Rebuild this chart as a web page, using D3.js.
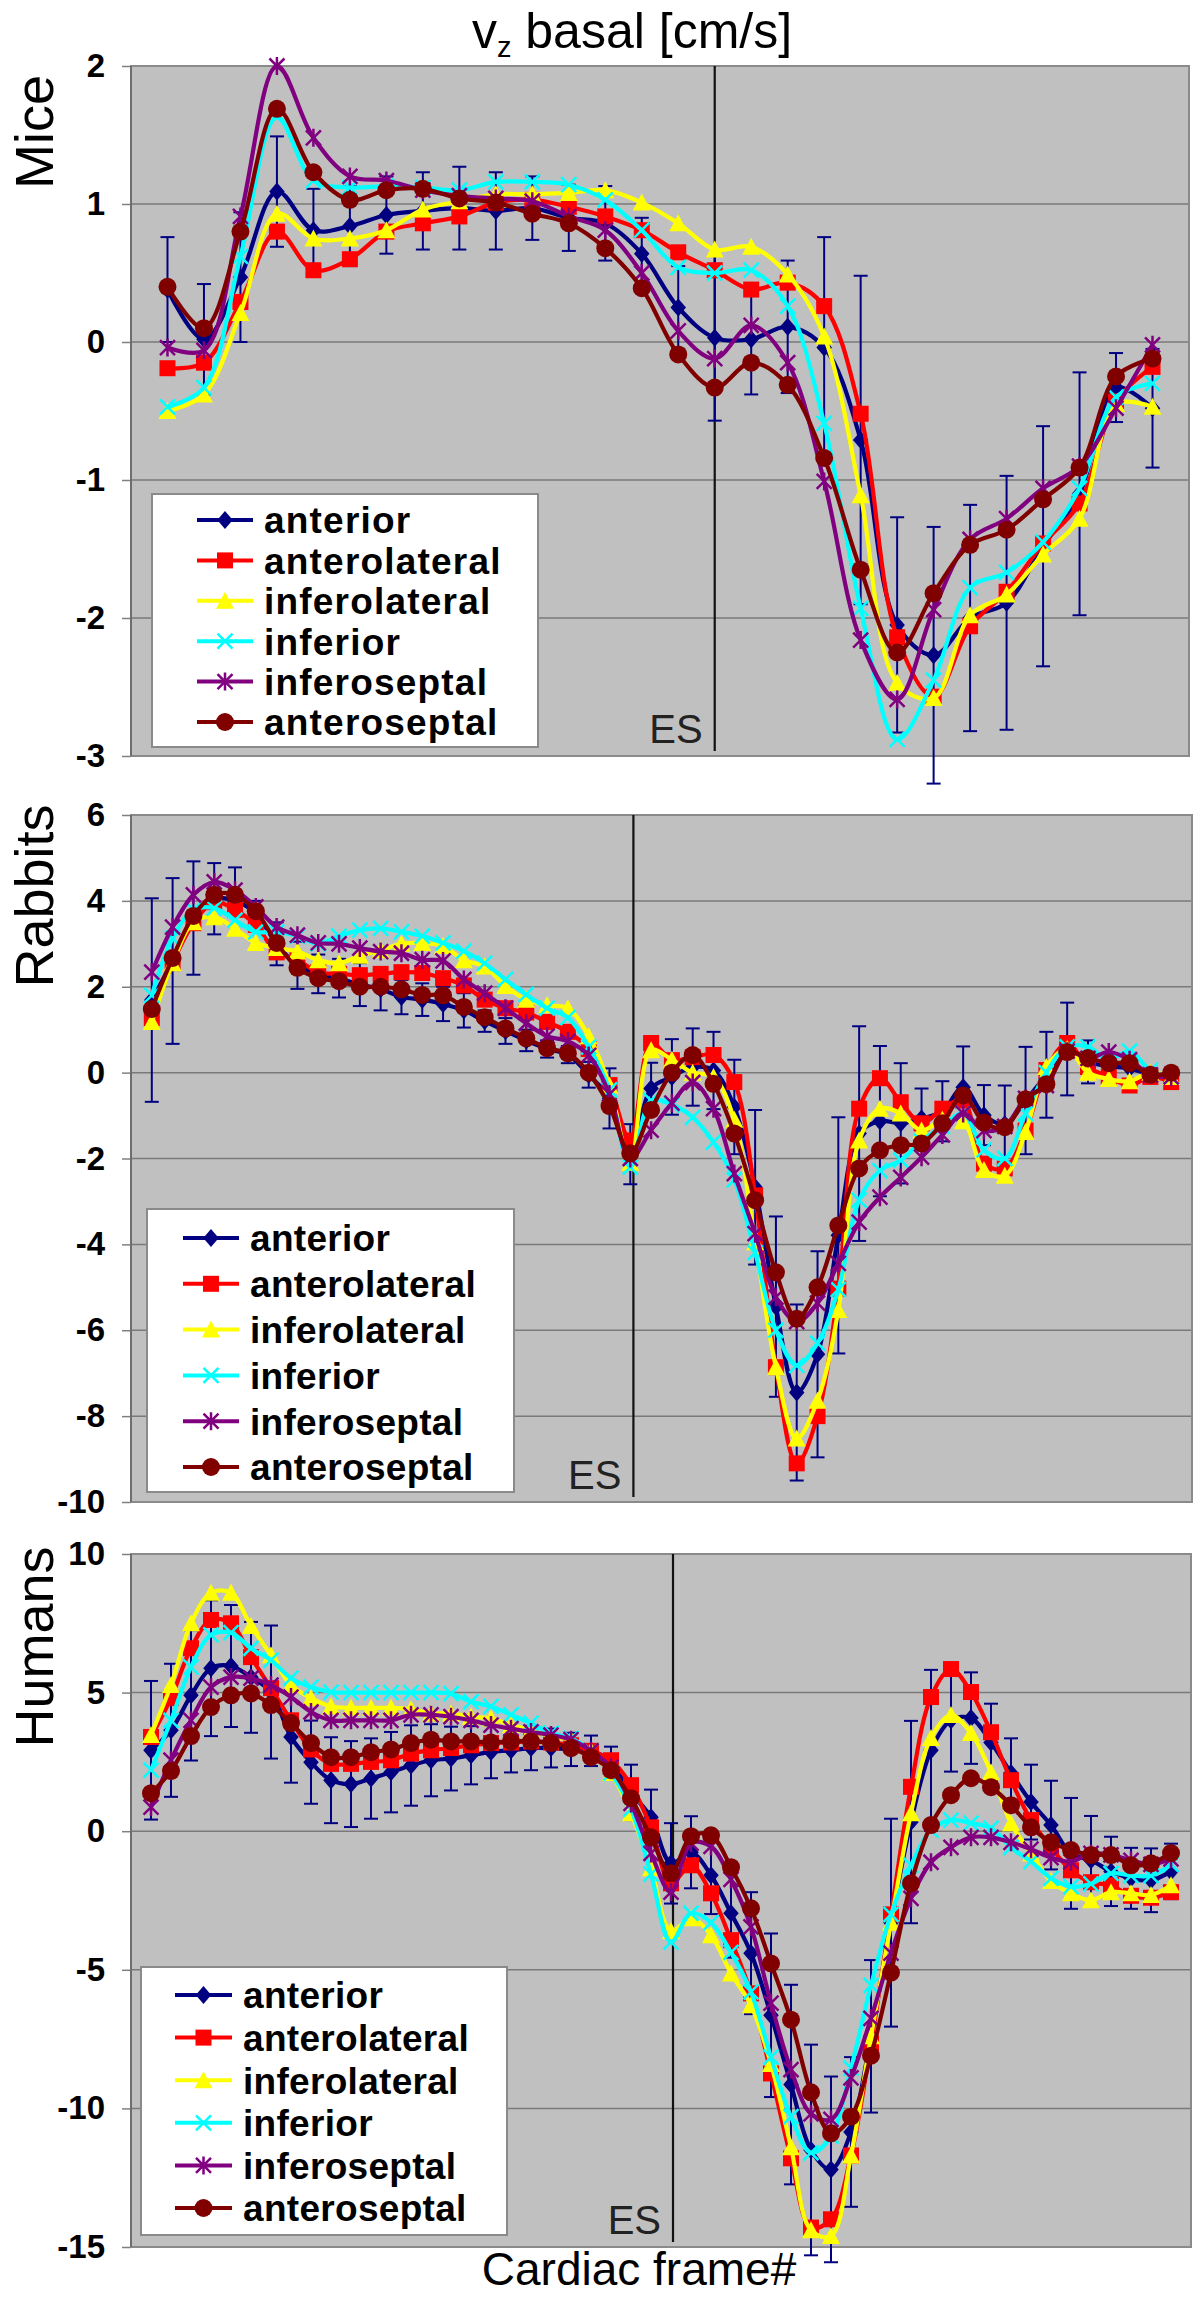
<!DOCTYPE html>
<html><head><meta charset="utf-8">
<script src="https://cdn.jsdelivr.net/npm/d3@7"></script>
<style>body{margin:0;background:#fff}svg{display:block}</style>
</head><body>
<svg id="c" width="1200" height="2298"></svg>
<script>
// ---------- data ----------
const seriesNames = ["anterior","anterolateral","inferolateral","inferior","inferoseptal","anteroseptal"];
const seriesColors = ["#000080","#ff0000","#ffff00","#00ffff","#800080","#800000"];
const seriesShapes = ["diamond","square","triangle","x","star","circle"];

const panelLabels = ["Mice","Rabbits","Humans"];
const miceTicks = [-3,-2,-1,0,1,2];
const rabbitTicks = [-10,-8,-6,-4,-2,0,2,4,6];
const humanTicks = [-15,-10,-5,0,5,10];
const esFrames = [15, 23.15, 26.1];

const miceAnterior      = [0.38,0.02,0.47,1.09,0.81,0.84,0.92,0.95,0.97,0.95,0.97,0.90,0.86,0.64,0.25,0.03,0.02,0.11,-0.04,-0.71,-2.05,-2.27,-2.00,-1.89,-1.48,-1.10,-0.33,-0.48];
const miceAnteriorErr   = [0.38,0.40,0.47,0.40,0.30,0.29,0.28,0.28,0.30,0.28,0.23,0.24,0.27,0.26,0.30,0.60,0.40,0.48,0.80,1.19,0.78,0.93,0.82,0.92,0.87,0.88,0.25,0.43];
const miceAnterolateral = [-0.19,-0.15,0.29,0.80,0.52,0.60,0.80,0.86,0.91,1.01,1.03,0.98,0.91,0.81,0.65,0.52,0.38,0.43,0.26,-0.52,-2.14,-2.57,-2.06,-1.81,-1.46,-1.17,-0.43,-0.18];
const miceInferolateral = [-0.50,-0.38,0.21,0.93,0.75,0.75,0.81,0.96,1.02,1.07,1.07,1.08,1.10,1.01,0.86,0.67,0.69,0.49,0.04,-1.11,-2.47,-2.58,-1.98,-1.83,-1.54,-1.28,-0.45,-0.47];
const miceInferior      = [-0.47,-0.33,0.62,1.63,1.17,1.12,1.13,1.12,1.10,1.16,1.16,1.14,1.03,0.81,0.54,0.50,0.52,0.26,-0.59,-1.93,-2.88,-2.45,-1.78,-1.67,-1.45,-1.06,-0.40,-0.30];
const miceInferoseptal  = [-0.04,-0.06,0.91,2.00,1.48,1.20,1.17,1.10,1.06,1.04,1.02,0.91,0.81,0.50,0.08,-0.12,0.12,-0.15,-1.01,-2.16,-2.59,-1.94,-1.43,-1.28,-1.06,-0.90,-0.48,-0.02];
const miceAnteroseptal  = [0.40,0.10,0.80,1.69,1.23,1.03,1.10,1.11,1.04,1.01,0.93,0.86,0.68,0.39,-0.09,-0.33,-0.15,-0.31,-0.84,-1.65,-2.25,-1.82,-1.47,-1.36,-1.14,-0.91,-0.25,-0.12];

const rabbitAnterior      = [1.69,2.6,3.6,4.05,4.0,3.7,3.0,2.5,2.3,2.2,2.05,1.95,1.76,1.7,1.6,1.45,1.2,0.97,0.75,0.55,0.42,-0.05,-0.6,-1.9,-0.37,-0.1,0.13,0.05,-0.8,-2.67,-5.45,-7.45,-6.56,-3.79,-1.42,-1.13,-1.18,-1.07,-0.9,-0.34,-0.99,-1.2,-0.65,-0.05,0.55,0.25,0.15,0.1,-0.05,-0.15];
const rabbitAnteriorErr   = [2.37,1.93,1.32,0.83,0.78,0.3,0.5,0.55,0.45,0.45,0.5,0.5,0.4,0.38,0.4,0.4,0.25,0.3,0.25,0.2,0.2,0.3,0.7,0.7,0.6,0.88,0.9,0.9,1.1,1.8,2.1,2.05,2.4,2.75,2.5,1.75,1.4,0.7,0.7,0.95,0.7,0.9,1.25,1.0,1.08,0.5,0.3,0.3,0.15,0.15];
const rabbitAnterolateral = [1.27,2.55,3.48,3.97,3.79,3.44,2.8,2.62,2.34,2.3,2.27,2.3,2.34,2.32,2.2,2.03,1.7,1.5,1.4,1.18,0.95,0.55,-0.29,-1.58,0.69,0.29,0.36,0.41,-0.22,-2.86,-6.86,-9.1,-8.0,-5.03,-0.84,-0.13,-0.69,-1.18,-0.84,-0.65,-2.12,-2.23,-1.35,0.06,0.69,0.13,-0.1,-0.3,-0.1,-0.22];
const rabbitInferolateral = [1.18,2.55,3.5,3.62,3.35,3.02,2.9,2.82,2.62,2.55,2.72,2.85,3.0,3.02,2.95,2.62,2.47,2.02,1.7,1.57,1.5,0.85,-0.3,-2.1,0.52,0.3,0.0,-0.1,-1.1,-3.95,-6.86,-8.52,-7.64,-5.53,-1.58,-0.84,-0.95,-1.35,-1.1,-1.13,-2.27,-2.4,-1.38,0.13,0.55,0.0,-0.15,-0.2,0.0,-0.1];
const rabbitInferior      = [1.8,3.13,3.79,3.83,3.55,3.28,3.28,3.18,3.0,3.18,3.32,3.36,3.28,3.18,3.02,2.83,2.55,2.17,1.82,1.5,1.28,0.6,-0.4,-2.2,-0.65,-0.75,-1.04,-1.62,-2.5,-4.19,-6.0,-6.82,-6.3,-5.05,-2.97,-2.28,-2.04,-1.6,-1.25,-0.95,-1.8,-2.0,-0.95,0.0,0.6,0.6,0.3,0.5,0.05,-0.1];
const rabbitInferoseptal  = [2.34,3.39,4.14,4.44,4.25,3.86,3.39,3.2,3.02,3.0,2.9,2.82,2.78,2.63,2.6,2.17,1.85,1.5,1.15,0.85,0.73,0.4,-0.5,-2.0,-1.34,-0.71,-0.23,-0.84,-2.35,-3.75,-5.23,-5.8,-5.37,-4.44,-3.48,-2.9,-2.44,-1.97,-1.45,-0.95,-1.35,-1.25,-0.6,-0.3,0.5,0.33,0.48,0.3,-0.05,-0.1];
const rabbitAnteroseptal  = [1.48,2.67,3.65,4.14,4.14,3.76,3.02,2.44,2.2,2.13,2.0,2.0,1.94,1.81,1.8,1.53,1.29,1.03,0.8,0.57,0.45,0.0,-0.78,-1.88,-0.87,0.0,0.41,-0.26,-1.42,-2.97,-4.65,-5.73,-5.0,-3.56,-2.23,-1.81,-1.69,-1.65,-1.18,-0.53,-1.16,-1.27,-0.62,-0.27,0.48,0.34,0.22,0.22,-0.05,0.0];

const humanAnterior      = [2.92,3.64,4.9,5.88,5.96,5.55,5.02,3.4,2.49,1.84,1.7,1.9,2.13,2.37,2.56,2.62,2.74,2.86,2.92,3.0,3.0,2.95,2.9,2.5,1.4,0.5,-1.16,-0.76,-1.59,-2.96,-4.4,-6.64,-9.14,-11.5,-12.2,-10.85,-7.4,-3.3,0.33,2.92,4.0,4.08,3.2,2.1,1.05,0.22,-0.8,-1.05,-1.45,-1.7,-1.77,-1.45];
const humanAnteriorErr   = [2.5,2.4,2.35,2.45,2.2,2.0,2.4,1.65,1.5,1.55,1.55,1.45,1.45,1.45,1.3,1.15,1.05,0.95,0.8,0.8,0.7,0.6,0.55,0.55,1.0,1.0,1.45,1.3,1.4,1.6,2.2,2.95,3.6,3.8,3.35,2.7,2.75,3.75,3.65,2.9,1.85,1.65,1.4,1.25,1.35,1.6,2.0,1.6,1.25,1.1,1.15,1.0];
const humanAnterolateral = [3.4,4.8,6.6,7.62,7.5,6.28,5.16,4.0,2.95,2.43,2.43,2.5,2.56,2.8,2.92,3.0,3.1,3.18,3.2,3.24,3.2,3.1,2.9,2.56,1.66,0.14,-1.88,-1.23,-2.24,-3.93,-5.85,-8.74,-11.8,-14.3,-14.0,-11.7,-7.65,-3.0,1.6,4.84,5.85,5.02,3.57,1.84,0.4,-0.58,-1.41,-1.84,-1.95,-2.33,-2.4,-2.2];
const humanInferolateral = [3.47,5.27,7.5,8.6,8.6,7.4,6.35,5.27,4.8,4.5,4.45,4.45,4.45,4.4,4.25,4.25,4.13,4.07,3.83,3.65,3.4,3.3,2.9,2.1,0.65,-1.34,-3.6,-3.14,-3.75,-5.13,-6.28,-8.4,-11.4,-14.4,-14.6,-11.7,-7.4,-3.3,0.65,3.36,4.19,3.54,2.13,0.29,-0.8,-1.8,-2.24,-2.49,-2.2,-2.24,-2.3,-1.95];
const humanInferior      = [2.2,4.0,5.92,7.08,7.16,6.6,6.17,5.52,5.2,5.02,5.0,5.0,5.0,5.0,5.0,4.96,4.67,4.5,4.2,3.9,3.54,3.35,2.9,2.1,0.8,-1.55,-4.0,-2.96,-3.3,-4.37,-5.8,-8.15,-10.3,-11.6,-11.0,-8.55,-5.56,-3.0,-1.23,0.04,0.4,0.29,0.11,-0.58,-1.1,-1.7,-2.0,-1.9,-1.52,-1.6,-1.6,-1.2];
const humanInferoseptal  = [0.87,2.56,4.0,5.2,5.56,5.52,5.27,4.84,4.3,4.0,4.0,4.0,4.0,4.2,4.2,4.13,4.0,3.83,3.7,3.58,3.47,3.3,2.9,2.3,1.0,-0.8,-2.2,-0.43,-0.55,-1.74,-3.45,-6.2,-8.6,-10.2,-10.4,-8.9,-6.75,-4.4,-2.42,-1.12,-0.58,-0.22,-0.22,-0.4,-0.65,-0.95,-1.1,-0.8,-0.85,-1.05,-1.2,-1.0];
const humanAnteroseptal  = [1.37,2.17,3.43,4.48,4.9,4.97,4.55,3.9,3.18,2.67,2.67,2.85,2.95,3.18,3.3,3.24,3.24,3.2,3.24,3.24,3.18,3.0,2.67,2.2,1.19,-0.22,-1.52,-0.18,-0.15,-1.3,-2.78,-4.77,-6.8,-9.42,-10.9,-10.3,-8.1,-5.1,-1.88,0.22,1.3,1.91,1.59,0.94,0.14,-0.4,-0.68,-0.86,-0.86,-1.23,-1.16,-0.79];

// ---------- layout ----------
const FONT = "'Liberation Sans', Arial, Helvetica, sans-serif";
const panels = [
  {label:panelLabels[0], ticks:miceTicks, es:esFrames[0],
   series:[miceAnterior,miceAnterolateral,miceInferolateral,miceInferior,miceInferoseptal,miceAnteroseptal], err:miceAnteriorErr,
   L:131,R:1189,T:66,B:756, labelY:132, legSpacing:1.2,
   leg:{x0:152,x1:538,y0:494,y1:747,row0:520,dy:40.4,l0:197,l1:253,tx:264}},
  {label:panelLabels[1], ticks:rabbitTicks, es:esFrames[1],
   series:[rabbitAnterior,rabbitAnterolateral,rabbitInferolateral,rabbitInferior,rabbitInferoseptal,rabbitAnteroseptal], err:rabbitAnteriorErr,
   L:131,R:1192,T:815,B:1502, labelY:896, legSpacing:0.3,
   leg:{x0:147,x1:514,y0:1209,y1:1492,row0:1238,dy:45.8,l0:183,l1:239,tx:250}},
  {label:panelLabels[2], ticks:humanTicks, es:esFrames[2],
   series:[humanAnterior,humanAnterolateral,humanInferolateral,humanInferior,humanInferoseptal,humanAnteroseptal], err:humanAnteriorErr,
   L:131,R:1191,T:1554,B:2247, labelY:1647, legSpacing:0.3,
   leg:{x0:141,x1:507,y0:1967,y1:2235,row0:1995,dy:42.6,l0:175,l1:232,tx:243}}
];

const svg = d3.select("#c");

function marker(g, shape, color, x, y) {
  const s = 18;
  if (shape === "diamond") {
    g.append("path").attr("d", `M${x},${y-s/2}L${x+s*0.43},${y}L${x},${y+s/2}L${x-s*0.43},${y}Z`).attr("fill", color);
  } else if (shape === "square") {
    g.append("rect").attr("x", x-8).attr("y", y-8).attr("width", 16).attr("height", 16).attr("fill", color);
  } else if (shape === "triangle") {
    g.append("path").attr("d", `M${x},${y-s/2}L${x+s/2},${y+s/2-1}L${x-s/2},${y+s/2-1}Z`).attr("fill", color);
  } else if (shape === "x") {
    const h = 7.5;
    g.append("path").attr("d", `M${x-h},${y-h}L${x+h},${y+h}M${x-h},${y+h}L${x+h},${y-h}`).attr("stroke", color).attr("stroke-width", 2.5).attr("fill","none");
  } else if (shape === "star") {
    const h = 7.5;
    g.append("path").attr("d", `M${x-h},${y-h}L${x+h},${y+h}M${x-h},${y+h}L${x+h},${y-h}M${x},${y-h-1.5}L${x},${y+h+1.5}`).attr("stroke", color).attr("stroke-width", 2.5).attr("fill","none");
  } else if (shape === "circle") {
    g.append("circle").attr("cx", x).attr("cy", y).attr("r", 9).attr("fill", color);
  }
}

panels.forEach(p => {
  const n = p.series[0].length;
  const x = d3.scaleLinear().domain([-1, n]).range([p.L, p.R]);
  const y = d3.scaleLinear().domain([d3.min(p.ticks), d3.max(p.ticks)]).range([p.B, p.T]);
  const g = svg.append("g");

  // plot background
  g.append("rect").attr("x", p.L).attr("y", p.T).attr("width", p.R - p.L).attr("height", p.B - p.T)
    .attr("fill", "#c0c0c0");

  // gridlines
  g.selectAll(".grid").data(p.ticks).join("line")
    .attr("x1", p.L).attr("x2", p.R).attr("y1", d => y(d)).attr("y2", d => y(d))
    .attr("stroke", "#7a7a7a").attr("stroke-width", 1.5);

  // y axis
  const axis = d3.axisLeft(y).tickValues(p.ticks).tickSize(9).tickPadding(17).tickFormat(d => String(d));
  const ag = g.append("g").attr("transform", `translate(${p.L},0)`).call(axis);
  ag.select(".domain").remove();
  ag.selectAll(".tick line").attr("stroke", "#808080").attr("stroke-width", 1.5);
  ag.selectAll(".tick text").attr("font-family", FONT).attr("font-size", 33).attr("font-weight", "bold").attr("fill", "#000");

  // border
  g.append("rect").attr("x", p.L).attr("y", p.T).attr("width", p.R - p.L).attr("height", p.B - p.T)
    .attr("fill", "none").attr("stroke", "#8a8a8a").attr("stroke-width", 2);
  g.append("line").attr("x1", p.L).attr("x2", p.L).attr("y1", p.T).attr("y2", p.B).attr("stroke", "#6e6e6e").attr("stroke-width", 2);

  // ES line and label
  g.append("line").attr("x1", x(p.es)).attr("x2", x(p.es)).attr("y1", p.T).attr("y2", p.B - 5)
    .attr("stroke", "#111").attr("stroke-width", 2.2);
  g.append("text").attr("x", x(p.es) - 12).attr("y", p.B - 13).attr("text-anchor", "end")
    .attr("font-family", FONT).attr("font-size", 40).attr("fill", "#222").text("ES");

  // panel label
  g.append("text").attr("transform", `translate(53,${p.labelY}) rotate(-90)`).attr("text-anchor", "middle")
    .attr("font-family", FONT).attr("font-size", 54).attr("fill", "#000").text(p.label);

  const line = d3.line().x((d, i) => x(i)).y(d => y(d)).curve(d3.curveCatmullRom.alpha(0.5));

  p.series.forEach((vals, si) => {
    const sg = g.append("g");
    sg.append("path").attr("d", line(vals)).attr("fill", "none")
      .attr("stroke", seriesColors[si]).attr("stroke-width", 4.2).attr("stroke-linejoin", "round");
    if (si === 0) {
      // error bars for anterior
      const eg = sg.append("g").attr("stroke", "#000080").attr("stroke-width", 2);
      vals.forEach((v, i) => {
        const e = p.err[i];
        const cx = x(i), y1 = y(v + e), y2 = y(v - e);
        eg.append("line").attr("x1", cx).attr("x2", cx).attr("y1", y1).attr("y2", y2);
        eg.append("line").attr("x1", cx - 7).attr("x2", cx + 7).attr("y1", y1).attr("y2", y1);
        eg.append("line").attr("x1", cx - 7).attr("x2", cx + 7).attr("y1", y2).attr("y2", y2);
      });
    }
    vals.forEach((v, i) => marker(sg, seriesShapes[si], seriesColors[si], x(i), y(v)));
  });

  // legend
  const L = p.leg;
  const lg = g.append("g");
  lg.append("rect").attr("x", L.x0).attr("y", L.y0).attr("width", L.x1 - L.x0).attr("height", L.y1 - L.y0)
    .attr("fill", "#fff").attr("stroke", "#8a8a8a").attr("stroke-width", 2);
  seriesNames.forEach((nm, si) => {
    const ry = L.row0 + si * L.dy;
    lg.append("line").attr("x1", L.l0).attr("x2", L.l1).attr("y1", ry).attr("y2", ry)
      .attr("stroke", seriesColors[si]).attr("stroke-width", 4);
    marker(lg, seriesShapes[si], seriesColors[si], (L.l0 + L.l1) / 2, ry);
    lg.append("text").attr("x", L.tx).attr("y", ry).attr("dy", "0.36em")
      .attr("font-family", FONT).attr("font-size", 37).attr("font-weight", "bold")
      .attr("letter-spacing", p.legSpacing).attr("fill", "#000").text(nm);
  });
});

// title
const title = svg.append("text").attr("x", 632).attr("y", 48).attr("text-anchor", "middle")
  .attr("font-family", FONT).attr("font-size", 50).attr("fill", "#000");
title.append("tspan").text("v");
title.append("tspan").attr("font-size", 29).attr("dy", 9).text("z");
title.append("tspan").attr("dy", -9).text(" basal [cm/s]");

// x label
svg.append("text").attr("x", 639).attr("y", 2285).attr("text-anchor", "middle")
  .attr("font-family", FONT).attr("font-size", 46).attr("fill", "#000").text("Cardiac frame#");
</script>
</body></html>
